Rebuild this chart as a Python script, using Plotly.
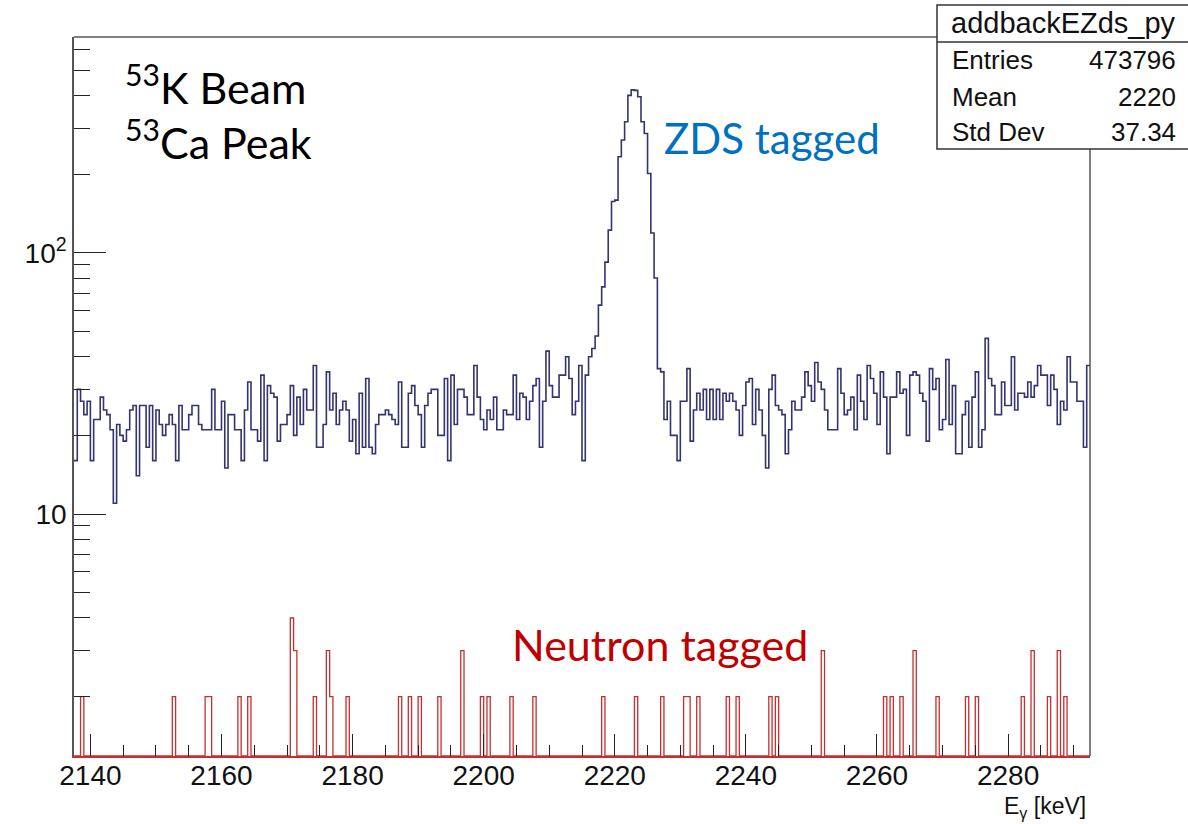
import numpy as np
import plotly.graph_objects as go

# Histogram binning (keV)
E_LOW = 2137.5
BIN_WIDTH = 0.5

# addbackEZds_py projection: counts per 0.5 keV bin, ZDS-tagged events
zds_counts = [
    16, 30, 27, 24, 27, 16, 23, 23, 28, 25,
    24, 21, 11, 22, 20, 19, 21, 25, 26, 14,
    26, 26, 18, 26, 16, 25, 22, 20, 22, 24,
    22, 16, 26, 21, 21, 24, 26, 26, 22, 21,
    21, 21, 30, 21, 21, 27, 15, 24, 24, 21,
    21, 16, 25, 32, 21, 21, 19, 34, 16, 31,
    29, 28, 19, 22, 22, 24, 31, 20, 28, 22,
    30, 25, 25, 37, 18, 18, 22, 35, 25, 29,
    22, 25, 27, 25, 19, 23, 17, 29, 18, 33,
    18, 17, 22, 24, 24, 25, 24, 23, 22, 32,
    18, 18, 29, 31, 26, 24, 18, 26, 29, 30,
    30, 20, 20, 33, 16, 34, 22, 30, 30, 28,
    24, 24, 37, 28, 23, 21, 25, 23, 28, 21,
    21, 25, 24, 24, 34, 23, 29, 28, 23, 27,
    31, 33, 18, 27, 42, 31, 28, 28, 34, 34,
    40, 33, 24, 27, 37, 16, 34, 40, 43, 48,
    63, 74, 92, 122, 157, 159, 233, 270, 317, 400,
    420, 418, 395, 317, 286, 201, 119, 80, 36, 35,
    23, 27, 20, 20, 16, 27, 27, 36, 19, 25,
    29, 25, 30, 23, 30, 23, 30, 23, 29, 27,
    29, 27, 25, 20, 26, 32, 33, 22, 30, 25,
    20, 15, 30, 34, 26, 25, 24, 17, 21, 27,
    25, 25, 28, 35, 31, 27, 38, 32, 30, 25,
    21, 21, 21, 36, 29, 24, 25, 28, 21, 34,
    27, 23, 37, 33, 29, 22, 35, 28, 17, 28,
    28, 35, 29, 30, 20, 34, 35, 34, 29, 27,
    19, 36, 30, 33, 21, 23, 39, 22, 31, 17,
    17, 24, 27, 18, 28, 35, 18, 21, 47, 33,
    31, 24, 24, 32, 26, 26, 40, 25, 29, 29,
    28, 32, 28, 31, 37, 34, 34, 26, 34, 30,
    22, 27, 25, 40, 32, 32, 27, 27, 18, 37,
]

# Neutron-tagged projection: non-empty bins (bin index) and their counts
neutron_bins = [
    2, 30, 40, 41, 50, 53, 66, 67, 73, 77, 78, 83, 99,
    102, 105, 111, 118, 124, 126, 133, 140, 161, 171, 179,
    186, 187, 190, 199, 202, 212, 214, 228, 247, 249, 252,
    256, 263, 272, 275, 289, 292, 297, 300, 302,
]
neutron_counts = [
    2, 2, 2, 2, 2, 2, 4, 3, 2, 3, 2, 2, 2,
    2, 2, 2, 3, 2, 2, 2, 2, 2, 2, 2,
    2, 2, 2, 2, 2, 2, 2, 3, 2, 2, 2,
    3, 2, 2, 2, 2, 3, 2, 3, 2,
]

# Axis ticks
x_major = [2140, 2160, 2180, 2200, 2220, 2240, 2260, 2280]
x_minor = [2145, 2150, 2155, 2165, 2170, 2175, 2185, 2190, 2195,
           2205, 2210, 2215, 2225, 2230, 2235, 2245, 2250, 2255,
           2265, 2270, 2275, 2285, 2290]
y_major = [10, 100]
y_major_text = ["10", "10<sup>2</sup>"]
y_minor = [2, 3, 4, 5, 6, 7, 8, 9,
           20, 30, 40, 50, 60, 70, 80, 90,
           200, 300, 400, 500, 600]

# Statistics box
stats_title = "addbackEZds_py"
stats_labels = ["Entries", "Mean", "Std Dev"]
stats_values = ["473796", "2220", "37.34"]

# ---- figure geometry (pixels) ----
W, H = 1188, 824
PL, PR, PT, PB = 74, 1090, 37, 756
Y_RANGE = [0.0739, 2.8255]


def xp(px):
    return (px - PL) / (PR - PL)


def yp(py):
    return (PB - py) / (PB - PT)


n_bins = len(zds_counts)
edges = E_LOW + BIN_WIDTH * np.arange(n_bins + 1)

zds_y = np.append(np.asarray(zds_counts, float), zds_counts[-1])

neutron_full = np.zeros(n_bins)
neutron_full[np.asarray(neutron_bins)] = neutron_counts
floor = 10 ** Y_RANGE[0]
neutron_y = np.maximum(neutron_full, floor)
neutron_y = np.append(neutron_y, neutron_y[-1])

BLUE_LINE = "#34346f"
RED_LINE = "#c62f2f"
FRAME = "#555555"
TICK = "#222222"

fig = go.Figure()
fig.add_trace(go.Scatter(
    x=edges, y=zds_y, mode="lines", line=dict(shape="hv", color=BLUE_LINE, width=1.6),
    hoverinfo="skip", name="ZDS tagged"))
fig.add_trace(go.Scatter(
    x=edges, y=neutron_y, mode="lines", line=dict(shape="hv", color=RED_LINE, width=1.3),
    hoverinfo="skip", name="Neutron tagged"))

fig.update_layout(
    width=W, height=H,
    margin=dict(l=PL, r=W - PR, t=PT, b=H - PB, autoexpand=False),
    plot_bgcolor="white", paper_bgcolor="white",
    showlegend=False,
)

fig.update_xaxes(
    range=[E_LOW, E_LOW + BIN_WIDTH * n_bins],
    showgrid=False, zeroline=False,
    showline=True, linecolor=RED_LINE, linewidth=1.5,
    ticks="inside", tickmode="array", tickvals=x_major,
    ticktext=[str(v) for v in x_major],
    ticklen=22, tickwidth=1.3, tickcolor=TICK,
    ticklabelstandoff=-6,
    tickfont=dict(family="Liberation Sans, Arial", size=28, color="#111111"),
    minor=dict(tickmode="array", tickvals=x_minor, ticks="inside",
               ticklen=11, tickwidth=1.3, tickcolor=TICK),
)
fig.update_yaxes(
    type="log", range=Y_RANGE,
    showgrid=False, zeroline=False,
    showline=True, linecolor=FRAME, linewidth=1.5,
    ticks="inside", tickmode="array", tickvals=y_major, ticktext=y_major_text,
    ticklen=32, tickwidth=1.3, tickcolor=TICK,
    tickfont=dict(family="Liberation Sans, Arial", size=28, color="#111111"),
    minor=dict(tickmode="array", tickvals=y_minor, ticks="inside",
               ticklen=16, tickwidth=1.3, tickcolor=TICK),
)

shapes = [
    # top and right sides of the frame
    dict(type="line", xref="paper", yref="paper", x0=0, x1=1, y0=1, y1=1,
         line=dict(color=FRAME, width=1.5)),
    dict(type="line", xref="paper", yref="paper", x0=1, x1=1, y0=0, y1=1,
         line=dict(color=FRAME, width=1.5)),
    # statistics box
    dict(type="rect", xref="paper", yref="paper",
         x0=xp(937), x1=xp(1200), y0=yp(149), y1=yp(5),
         fillcolor="white", line=dict(color="#333333", width=1.5), layer="above"),
    dict(type="line", xref="paper", yref="paper",
         x0=xp(937), x1=xp(1200), y0=yp(42), y1=yp(42),
         line=dict(color="#333333", width=1.5), layer="above"),
]
fig.update_layout(shapes=shapes)

STAT_FONT = dict(family="Liberation Sans, Arial", size=26, color="#111111")
annotations = [
    dict(text=stats_title, x=xp(1063), y=yp(23), xanchor="center", yanchor="middle",
         font=dict(family="Liberation Sans, Arial", size=29, color="#111111")),
]
for label, value, py in zip(stats_labels, stats_values, [60, 97, 132]):
    annotations.append(dict(text=label, x=xp(950), y=yp(py), xanchor="left",
                            yanchor="middle", font=STAT_FONT))
    annotations.append(dict(text=value, x=xp(1178), y=yp(py), xanchor="right",
                            yanchor="middle", font=STAT_FONT))

LABEL_FONT = "Lato, Carlito, Calibri, sans-serif"
annotations += [
    dict(text="<sup>53</sup>K Beam", x=xp(123), y=yp(84), xanchor="left", yanchor="middle",
         font=dict(family=LABEL_FONT, size=43, color="#000000")),
    dict(text="<sup>53</sup>Ca Peak", x=xp(123), y=yp(140), xanchor="left", yanchor="middle",
         font=dict(family=LABEL_FONT, size=43, color="#000000")),
    dict(text="ZDS tagged", x=xp(662), y=yp(138), xanchor="left", yanchor="middle",
         font=dict(family=LABEL_FONT, size=42, color="#0070C0")),
    dict(text="Neutron tagged", x=xp(510), y=yp(644), xanchor="left", yanchor="middle",
         font=dict(family=LABEL_FONT, size=43, color="#C00000")),
    dict(text="E<sub>γ</sub> [keV]", x=xp(1088), y=yp(823.5), xanchor="right",
         yanchor="bottom",
         font=dict(family="Liberation Sans, Arial", size=23, color="#111111")),
]
for a in annotations:
    a.setdefault("xref", "paper")
    a.setdefault("yref", "paper")
    a.setdefault("showarrow", False)
fig.update_layout(annotations=annotations)

fig.write_html("out.html")
